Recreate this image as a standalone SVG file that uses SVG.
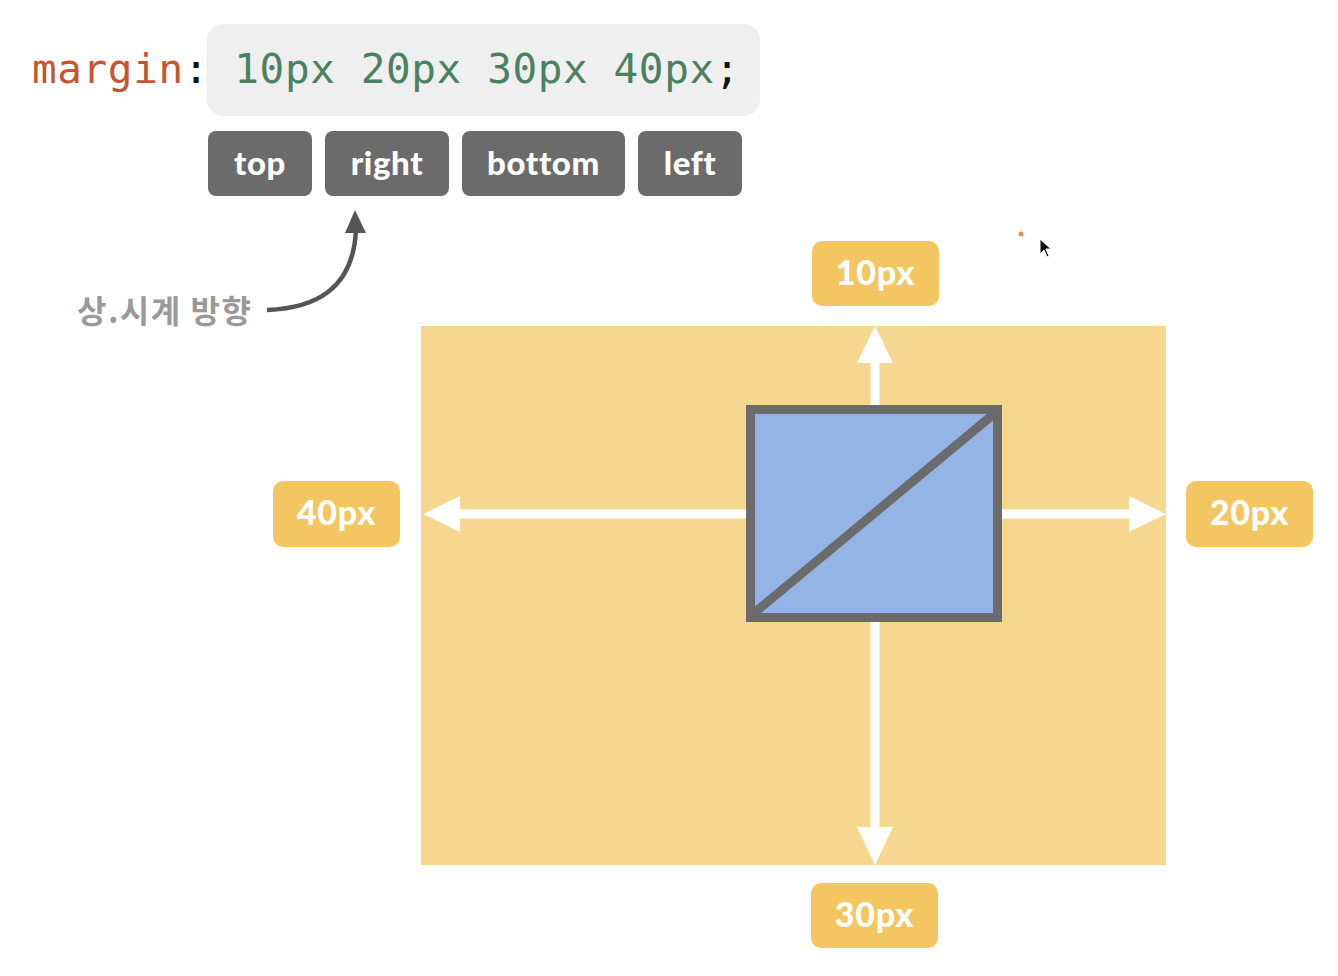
<svg xmlns="http://www.w3.org/2000/svg" width="1338" height="976" viewBox="0 0 1338 976">
<style>
.code{font-family:"DejaVu Sans Mono","Liberation Mono",monospace;font-size:41px;letter-spacing:0.6px}
.tag rect{fill:#6b6b6b}
.tag text{font-family:Lato,"Noto Sans",sans-serif;font-weight:900;font-size:33px;letter-spacing:0.6px;fill:#fff;text-anchor:middle}
.val rect{fill:#f3c662}
.val text{font-family:Lato,"Noto Sans",sans-serif;font-weight:900;font-size:34px;letter-spacing:0.8px;fill:#fff;text-anchor:middle}
.warrow{stroke:#fff;stroke-width:9;fill:none}
.whead{fill:#fff}
</style>
<rect width="1338" height="976" fill="#fff"/>
<g id="code">
<rect x="207" y="24" width="553" height="92" rx="16" fill="#efefef"/>
<text class="code" x="32" y="83"><tspan fill="#c4552e">margin</tspan><tspan fill="#111">:</tspan><tspan fill="#111"> </tspan><tspan fill="#4b8163">10px 20px 30px 40px</tspan><tspan fill="#111">;</tspan></text>
</g>
<g id="tag-top" class="tag"><rect x="208" y="131" width="104" height="65" rx="8"/><text x="260" y="175">top</text></g>
<g id="tag-right" class="tag"><rect x="325" y="131" width="124" height="65" rx="8"/><text x="387" y="175">right</text></g>
<g id="tag-bottom" class="tag"><rect x="462" y="131" width="163" height="65" rx="8"/><text x="543.5" y="175">bottom</text></g>
<g id="tag-left" class="tag"><rect x="638" y="131" width="104" height="65" rx="8"/><text x="690" y="175">left</text></g>
<g id="note">
<text x="77" y="323" font-family="'Noto Sans CJK KR',sans-serif" font-weight="700" font-size="32" letter-spacing="1.5" fill="#9a9a9a">상.시계 방향</text>
</g>
<g id="margin-area">
<rect x="421" y="326" width="745" height="539" fill="#f6d78f"/>
</g>
<g id="connectors">
<path d="M267,310 C315,308 353,290 356,230" stroke="#555" stroke-width="4.5" fill="none"/>
<polygon points="355,210 345,233 366,233" fill="#555"/>
<line class="warrow" x1="875" y1="405" x2="875" y2="355"/>
<polygon class="whead" points="875,326 857,363 893,363"/>
<line class="warrow" x1="1002" y1="514" x2="1138" y2="514"/>
<polygon class="whead" points="1166,514 1129,496 1129,532"/>
<line class="warrow" x1="746" y1="514" x2="450" y2="514"/>
<polygon class="whead" points="423,514 460,496 460,532"/>
<line class="warrow" x1="875" y1="622" x2="875" y2="836"/>
<polygon class="whead" points="875,865 857,827 893,827"/>
</g>
<g id="element-box">
<rect x="750.5" y="409.5" width="247" height="208" fill="#94b4e6" stroke="#6b6b6b" stroke-width="9"/>
<line x1="753" y1="614" x2="995" y2="413" stroke="#6b6b6b" stroke-width="9"/>
</g>
<g id="val-top" class="val"><rect x="812" y="241" width="127" height="65" rx="10"/><text x="875.5" y="285">10px</text></g>
<g id="val-right" class="val"><rect x="1186" y="481" width="127" height="66" rx="10"/><text x="1249.5" y="525">20px</text></g>
<g id="val-left" class="val"><rect x="273" y="481" width="127" height="66" rx="10"/><text x="336.5" y="525">40px</text></g>
<g id="val-bottom" class="val"><rect x="811" y="883" width="127" height="65" rx="10"/><text x="874.5" y="927">30px</text></g>
<g id="pointer">
<circle cx="1021" cy="234" r="2.5" fill="#e0904f"/>
<path d="M1040,239 L1040,254 L1044,250 L1047,257 L1049,256 L1046,249 L1051,249 Z" fill="#111" stroke="#fff" stroke-width="1"/>
</g>
</svg>
